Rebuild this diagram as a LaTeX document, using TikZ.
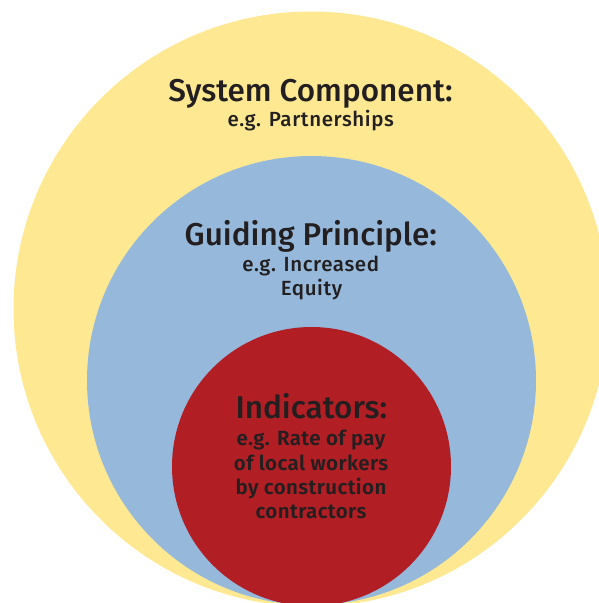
\documentclass[tikz,border=0pt]{standalone}
\usepackage{fontspec}
\setmainfont{Fira Sans}
\newfontfamily\headfont{Fira Sans Medium}
\newfontfamily\notefont{Fira Sans Medium}[LetterSpace=3]
\newfontfamily\strongfont{Fira Sans SemiBold}[LetterSpace=2]
\definecolor{ringyellow}{RGB}{254,233,146}
\definecolor{ringblue}{RGB}{149,184,219}
\definecolor{ringred}{RGB}{177,30,36}
\definecolor{inktext}{RGB}{35,31,32}
\begin{document}
\begin{tikzpicture}[x=1pt,y=-1pt,
  ring/.style={circle,inner sep=0pt,outer sep=0pt,draw=none},
  headline/.style={anchor=base,inner sep=0pt,text=inktext,font=\headfont\fontsize{31.5}{31.5}\selectfont},
  noteline/.style={anchor=base,inner sep=0pt,text=inktext,font=\notefont\fontsize{20.5}{20.5}\selectfont},
  boldnote/.style={anchor=base,inner sep=0pt,text=inktext,font=\strongfont\fontsize{20.5}{20.5}\selectfont}]
  \useasboundingbox (0,0) rectangle (598,603);
  % nested circles, all touching near the bottom edge
  \node[ring,fill=ringyellow,minimum size=595pt] (outer) at (311,309) {};
  \node[ring,fill=ringblue,minimum size=449pt] (middle) at (311.5,380.5) {};
  \node[ring,fill=ringred,minimum size=279pt] (inner) at (311.5,466.5) {};
  % outer ring text
  \node[headline] (systitle) at (310.5,101.7) {System Component:};
  \node[noteline] (sysnote) at (310.8,126.7) {e.g. Partnerships};
  % middle ring text
  \node[headline] (guidetitle) at (310.8,245) {Guiding Principle:};
  \node[noteline] (guidenoteA) at (310.8,271.7) {e.g. Increased};
  \node[noteline] (guidenoteB) at (311.5,295) {Equity};
  % inner circle text
  \node[headline] (indtitle) at (311.3,418.3) {Indicators:};
  \node[boldnote] (indnoteA) at (311,445) {e.g. Rate of pay};
  \node[boldnote] (indnoteB) at (311,470) {of local workers};
  \node[boldnote] (indnoteC) at (311,494) {by construction};
  \node[boldnote] (indnoteD) at (311,518) {contractors};
\end{tikzpicture}
\end{document}
